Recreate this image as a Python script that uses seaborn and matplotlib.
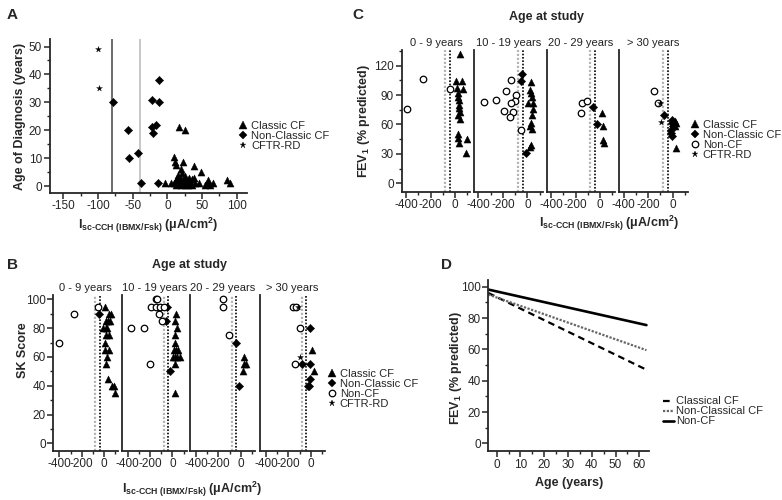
import matplotlib
matplotlib.use("Agg")
import matplotlib.pyplot as plt
from matplotlib.lines import Line2D
from matplotlib.ticker import MultipleLocator
import seaborn as sns

# ---------------- Panel A: age of diagnosis vs Isc-CCH ----------------
a_classic_x = [17, 26, 10, 11, 12, 22, 38, 49, 19, 58, 66, 86, 90, -3, 6, 9, 13, 15, 18, 20,
               22, 25, 28, 30, 33, 36, 40, 14, 17, 20, 24, 27, 31, 35, 39, 16, 21, 26, 30,
               54, 57, 62, 12, 45]
a_classic_y = [21, 20, 10.5, 8.5, 7.5, 8.5, 7, 5, 6, 2, 1, 2, 1, 1, 1, 1, 0.5, 1, 1, 0.5,
               1, 0.5, 1, 0.5, 1, 0.5, 1, 3, 3, 2.5, 3, 2, 3, 2.5, 3, 4, 4.5, 3.5, 2,
               0.5, 1, 0.5, 2, 1]
a_nonclassic_x = [-79, -57, -55, -43, -38, -22, -12, -12, -22, -16, -21, -14]
a_nonclassic_y = [30, 20, 10, 12, 1, 31, 38, 30, 21, 22, 19, 1]
a_cftr_x = [-100, -98]
a_cftr_y = [49, 35]

# ---------------- Panels B & C: by age at study ----------------
age_groups = ["0 - 9 years", "10 - 19 years", "20 - 29 years", "> 30 years"]

# B: SK score
b_classic_x = [[12, 41, 62, 15, 38, 56, -9, 15, 30, 21, 41, 12, 12, 41, 30, 21, 36, 71, 86, 95],
               [36, 21, 42, 21, 27, 12, 36, 51, 6, 21, 42, 66, 21, 21],
               [30, 44, 27, 21],
               [15, 27]]
b_classic_y = [[95, 90, 90, 85, 85, 85, 80, 80, 80, 75, 75, 70, 65, 65, 60, 55, 45, 40, 40, 35],
               [90, 85, 80, 75, 70, 65, 65, 65, 60, 60, 60, 60, 55, 35],
               [60, 55, 55, 50],
               [65, 50]]
b_nonclassic_x = [[-44], [-45, -57, -18], [-45, -15], [-3, -77, -9, -9, -15, -20]]
b_nonclassic_y = [[90], [95, 85, 50], [70, 40], [80, 55, 55, 45, 40, 40]]
b_noncf_x = [[-400, -270, -58],
             [-150, -135, -190, -144, -108, -75, -120, -90, -370, -256, -201],
             [-160, -160, -105],
             [-163, -133, -98, -142]]
b_noncf_y = [[70, 90, 95],
             [100, 100, 95, 95, 95, 95, 90, 85, 80, 80, 55],
             [100, 95, 75],
             [95, 95, 80, 55]]
b_cftr_x = [[], [], [], [-113, -98]]
b_cftr_y = [[], [], [], [95, 60]]

# C: FEV1
c_classic_x = [[35, 8, 55, 14, 63, 19, 27, 33, 41, 41, 19, 95, 33, 90, 20, 30, 25, 22],
               [27, 19, 33, 5, 41, 46, 25, 19, 33, 25, 19, 30, 38],
               [11, 19, 24, 33],
               [14, 28, 20, 28]]
c_classic_y = [[132, 104, 104, 97, 96, 92, 85, 77, 73, 66, 46, 45, 41, 31, 88, 80, 70, 50],
               [103, 95, 88, 82, 82, 76, 61, 58, 55, 39, 37, 92, 70],
               [72, 58, 44, 41],
               [64, 61, 58, 36]]
c_nonclassic_x = [[], [-41, -49, -14], [-57, -22], [-73, -5, 0, -13, -13, -5, -8]]
c_nonclassic_y = [[], [112, 104, 31], [78, 60], [70, 65, 58, 54, 51, 61, 48]]
c_noncf_x = [[-264, -394, -46],
             [-354, -253, -177, -136, -90, -104, -131, -191, -117, -144, -49],
             [-149, -104, -158],
             [-155, -122]]
c_noncf_y = [[106, 76, 96],
             [83, 85, 94, 105, 90, 84, 82, 74, 73, 68, 54],
             [82, 84, 72],
             [94, 82]]
c_cftr_x = [[], [], [], [-103, -95]]
c_cftr_y = [[], [], [], [82, 63]]

# ---------------- Panel D: FEV1 decline with age ----------------
d_age = [-3.5, 63]
d_classical = [96, 47]
d_nonclassical = [95, 59.5]
d_noncf = [98.2, 75.5]

# ---------------- style ----------------
sns.set_style("ticks")
plt.rcParams["font.family"] = ["Liberation Sans", "DejaVu Sans"]
plt.rcParams["mathtext.fontset"] = "custom"
plt.rcParams["mathtext.rm"] = "Liberation Sans:bold"
plt.rcParams["mathtext.it"] = "Liberation Sans:bold"
plt.rcParams["mathtext.bf"] = "Liberation Sans:bold"
plt.rcParams["axes.unicode_minus"] = False
plt.rcParams["axes.linewidth"] = 1.3

W, H = 782, 500
fig = plt.figure(figsize=(7.82, 5.0), dpi=100)


def px(l, t, r, b):
    return [l / W, 1 - b / H, (r - l) / W, (b - t) / H]


def fx(x):
    return x / W


def fy(y):
    return 1 - y / H


mk = {
    "classic": dict(marker="^", s=26, color="black", edgecolor="black", linewidth=0.3),
    "nonclassic": dict(marker="D", s=18, color="black", edgecolor="black", linewidth=0.3),
    "noncf": dict(marker="o", s=22, color="white", edgecolor="black", linewidth=0.9),
    "cftr": dict(marker="*", s=20, color="black", edgecolor="black", linewidth=0.2),
}


def points(ax, xs, ys, kind):
    if len(xs) == 0:
        return
    sns.scatterplot(x=xs, y=ys, ax=ax, legend=False, zorder=3, **mk[kind])


def style(ax, xmaj, xmin, ymaj, ymin):
    sns.despine(ax=ax)
    ax.xaxis.set_major_locator(MultipleLocator(xmaj))
    ax.xaxis.set_minor_locator(MultipleLocator(xmin))
    ax.yaxis.set_major_locator(MultipleLocator(ymaj))
    ax.yaxis.set_minor_locator(MultipleLocator(ymin))
    ax.tick_params(which="major", length=4, width=1.1, labelsize=8.5, pad=1.5)
    ax.tick_params(which="minor", length=2.5, width=1.0)
    ax.set_xlabel("")
    ax.set_ylabel("")


def handle(kind):
    st = mk[kind]
    return Line2D([], [], ls="none", marker=st["marker"], markersize=st["s"] ** 0.5,
                  markerfacecolor=st["color"], markeredgecolor="black",
                  markeredgewidth=st["linewidth"])


isc_label = r"I$_{\mathrm{sc‐CCH\ (IBMX/Fsk)}}$ (μA/cm$^{2}$)"
fev_label = r"FEV$_{1}$ (% predicted)"

# ---------------- A ----------------
ax = fig.add_axes(px(49.5, 39.3, 246.7, 192.7))
ax.axvline(-80, color="#606060", lw=1.3, zorder=1)
ax.axvline(-40, color="#c8c8c8", lw=1.4, zorder=1)
points(ax, a_classic_x, a_classic_y, "classic")
points(ax, a_nonclassic_x, a_nonclassic_y, "nonclassic")
points(ax, a_cftr_x, a_cftr_y, "cftr")
ax.set_xlim(-170, 114.5)
ax.set_ylim(-2.4, 52.6)
style(ax, 50, 25, 10, 5)
fig.text(fx(20), fy(116), "Age of Diagnosis (years)", rotation=90, ha="center", va="center",
         fontsize=9, fontweight="bold")
fig.text(fx(148), fy(225), isc_label, ha="center", va="center", fontsize=9, fontweight="bold")
fig.text(fx(7), fy(15), "A", ha="left", va="center", fontsize=11, fontweight="bold")
fig.legend([handle("classic"), handle("nonclassic"), handle("cftr")],
           ["Classic CF", "Non-Classic CF", "CFTR-RD"],
           loc="upper left", bbox_to_anchor=(fx(239), fy(121)), frameon=False,
           fontsize=8, borderpad=0, borderaxespad=0, handlelength=0.8,
           handletextpad=0.3, labelspacing=0.0)


# ---------------- B & C ----------------
def group_panel(lefts, width, top, bottom, xlim, ylim, ymaj, ymin, cx, cy, nx, ny, fx_, fy_, sx, sy):
    axes = []
    for i, l in enumerate(lefts):
        a = fig.add_axes(px(l, top, l + width, bottom))
        a.axvline(-80, color="#b5b5b5", lw=1.6, ls=(0, (1, 0.8)), zorder=1)
        a.axvline(-40, color="black", lw=1.2, ls=(0, (1, 1)), zorder=1)
        points(a, cx[i], cy[i], "classic")
        points(a, nx[i], ny[i], "nonclassic")
        points(a, fx_[i], fy_[i], "noncf")
        points(a, sx[i], sy[i], "cftr")
        a.set_xlim(*xlim)
        a.set_ylim(*ylim)
        style(a, 200, 100, ymaj, ymin)
        if i > 0:
            a.tick_params(axis="y", which="both", left=False, labelleft=False)
        a.set_title(age_groups[i], fontsize=8, pad=3, color="#222222")
        axes.append(a)
    return axes


group_panel([53.3, 121.7, 190, 260], 65, 295, 450.7, (-455, 128), (-5.1, 103), 20, 10,
            b_classic_x, b_classic_y, b_nonclassic_x, b_nonclassic_y,
            b_noncf_x, b_noncf_y, b_cftr_x, b_cftr_y)
fig.text(fx(190), fy(265), "Age at study", ha="center", va="center", fontsize=9, fontweight="bold")
fig.text(fx(23), fy(350), "SK Score", rotation=90, ha="center", va="center",
         fontsize=9, fontweight="bold")
fig.text(fx(192), fy(489), isc_label, ha="center", va="center", fontsize=9, fontweight="bold")
fig.text(fx(7), fy(265), "B", ha="left", va="center", fontsize=11, fontweight="bold")
fig.legend([handle("classic"), handle("nonclassic"), handle("noncf"), handle("cftr")],
           ["Classic CF", "Non-Classic CF", "Non-CF", "CFTR-RD"],
           loc="upper left", bbox_to_anchor=(fx(327.5), fy(369)), frameon=False,
           fontsize=8, borderpad=0, borderaxespad=0, handlelength=0.8,
           handletextpad=0.3, labelspacing=0.0)

group_panel([401.7, 474, 546.7, 619.3], 68.5, 50, 191.7, (-435, 122), (-8.6, 136), 30, 15,
            c_classic_x, c_classic_y, c_nonclassic_x, c_nonclassic_y,
            c_noncf_x, c_noncf_y, c_cftr_x, c_cftr_y)
fig.text(fx(546.7), fy(16.7), "Age at study", ha="center", va="center", fontsize=9, fontweight="bold")
fig.text(fx(364), fy(121), fev_label, rotation=90, ha="center", va="center",
         fontsize=9, fontweight="bold")
fig.text(fx(609), fy(223), isc_label, ha="center", va="center", fontsize=9, fontweight="bold")
fig.text(fx(352), fy(14.7), "C", ha="left", va="center", fontsize=11, fontweight="bold")
fig.legend([handle("classic"), handle("nonclassic"), handle("noncf"), handle("cftr")],
           ["Classic CF", "Non-Classic CF", "Non-CF", "CFTR-RD"],
           loc="upper left", bbox_to_anchor=(fx(690.6), fy(120)), frameon=False,
           fontsize=8, borderpad=0, borderaxespad=0, handlelength=0.8,
           handletextpad=0.3, labelspacing=0.0)

# ---------------- D ----------------
ax = fig.add_axes(px(488.3, 280, 649.3, 451))
sns.lineplot(x=d_age, y=d_classical, ax=ax, color="black", lw=1.6, ls=(0, (3, 2)))
sns.lineplot(x=d_age, y=d_nonclassical, ax=ax, color="#666666", lw=1.6, ls=(0, (1, 0.7)))
sns.lineplot(x=d_age, y=d_noncf, ax=ax, color="black", lw=1.9)
ax.set_xlim(-3.5, 64.2)
ax.set_ylim(-4.9, 104.3)
style(ax, 10, 5, 20, 10)
fig.text(fx(456), fy(368), fev_label, rotation=90, ha="center", va="center",
         fontsize=9, fontweight="bold")
fig.text(fx(569.3), fy(483.3), "Age (years)", ha="center", va="center", fontsize=9, fontweight="bold")
fig.text(fx(440.7), fy(265), "D", ha="left", va="center", fontsize=11, fontweight="bold")
fig.legend([Line2D([], [], color="black", lw=1.6, ls=(0, (3, 2))),
            Line2D([], [], color="#666666", lw=1.6, ls=(0, (1, 0.7))),
            Line2D([], [], color="black", lw=1.9)],
           ["Classical CF", "Non-Classical CF", "Non-CF"],
           loc="upper left", bbox_to_anchor=(fx(663), fy(396.5)), frameon=False,
           fontsize=8, borderpad=0, borderaxespad=0, handlelength=1.0,
           handletextpad=0.15, labelspacing=0.0)

fig.savefig("out.png", dpi=100)
